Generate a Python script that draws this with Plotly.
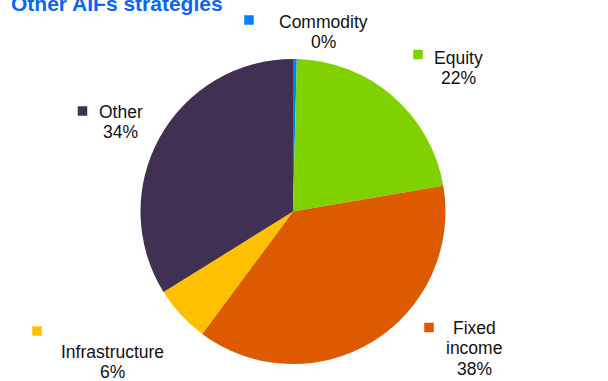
import plotly.graph_objects as go

W, H = 608, 381

# Strategy breakdown
categories = ["Commodity", "Equity", "Fixed income", "Infrastructure", "Other"]
values = [0.4, 22.0, 38.0, 6.0, 34.0]
colors = ["#0080FF", "#7FD200", "#DE5A00", "#FFC000", "#403152"]
title_text = "Other AIFs strategies"

# Label lines for each category (category name split over lines)
label_lines = {
    "Commodity": ["Commodity"],
    "Equity": ["Equity"],
    "Fixed income": ["Fixed", "income"],
    "Infrastructure": ["Infrastructure"],
    "Other": ["Other"],
}
# Label placement in pixels: key square centre, text centre x, first-line baseline
label_pos = {
    "Commodity": ((249, 20), 323, 28),
    "Equity": ((418, 54.5), 458.5, 64),
    "Fixed income": ((429, 327.5), 474, 334),
    "Infrastructure": ((37, 331), 112.5, 358),
    "Other": ((82.5, 111), 120.5, 118),
}

FONT = "Liberation Sans, Arial, sans-serif"
FS = 17.5
LINE = 20.7
KEY = 9.5


def px(x):
    return x / W


def py(y):
    return 1 - y / H


cx, cy, r = 293, 211.5, 152.5

fig = go.Figure(
    go.Pie(
        labels=categories,
        values=values,
        sort=False,
        direction="clockwise",
        rotation=0,
        marker=dict(colors=colors, line=dict(width=0)),
        textinfo="none",
        hoverinfo="label+percent",
        showlegend=False,
        domain=dict(x=[px(cx - r), px(cx + r)], y=[py(cy + r), py(cy - r)]),
    )
)

total = sum(values)
annotations = []
shapes = []
for cat, val in zip(categories, values):
    (kx, ky), tx, base = label_pos[cat]
    color = colors[categories.index(cat)]
    shapes.append(dict(
        type="rect", xref="paper", yref="paper",
        x0=px(kx - KEY / 2), x1=px(kx + KEY / 2),
        y0=py(ky + KEY / 2), y1=py(ky - KEY / 2),
        fillcolor=color, line=dict(width=0),
    ))
    lines = label_lines[cat] + [f"{val / total:.0%}"]
    for i, line in enumerate(lines):
        b = base + i * LINE
        annotations.append(dict(
            text=line, xref="paper", yref="paper",
            x=px(tx), y=py(b - 0.36 * FS), xanchor="center", yanchor="middle",
            showarrow=False, font=dict(family=FONT, size=FS, color="#111111"),
        ))

# Heading, running off the top edge
annotations.append(dict(
    text=f"<b>{title_text}</b>", xref="paper", yref="paper",
    x=px(9), y=py(11 - 0.36 * 21), xanchor="left", yanchor="middle",
    showarrow=False, font=dict(family=FONT, size=21, color="#0A66F2"),
))

fig.update_layout(
    width=W, height=H,
    margin=dict(l=0, r=0, t=0, b=0),
    paper_bgcolor="white", plot_bgcolor="white",
    annotations=annotations, shapes=shapes,
)

fig.write_html("out.html")
